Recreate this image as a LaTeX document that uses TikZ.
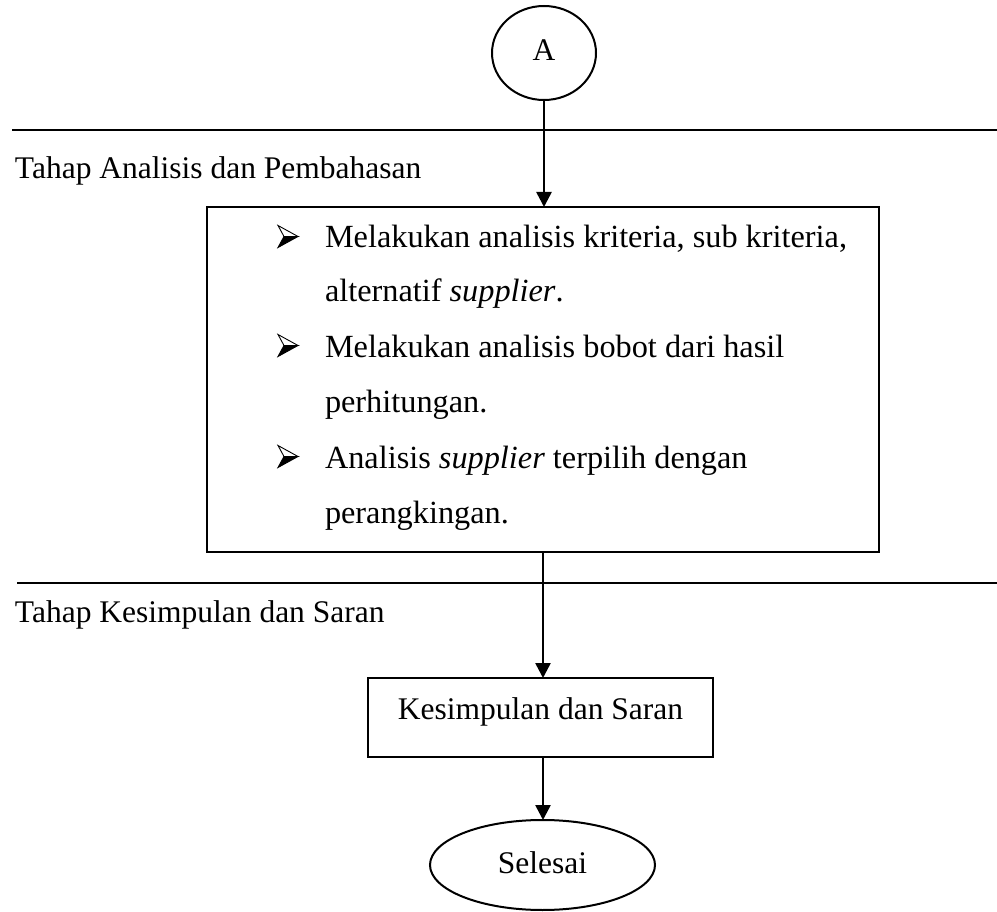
\documentclass[tikz,border=0pt]{standalone}
\usepackage{fontspec}
\setmainfont{Liberation Serif}
\usetikzlibrary{arrows.meta,shapes.geometric}
\begin{document}
\begin{tikzpicture}[x=1pt,y=-1pt,
  every node/.style={inner sep=0pt, outer sep=0pt},
  txt/.style={font=\fontsize{31.5}{36}\selectfont, anchor=base west},
  btxt/.style={font=\fontsize{32.3}{36}\selectfont, anchor=base west},
  ctxt/.style={font=\fontsize{31.5}{36}\selectfont, anchor=base},
  frame/.style={draw, line width=2pt, rectangle},
  oval/.style={draw, line width=2pt, ellipse},
  flow/.style={line width=2.6pt, -{Triangle[length=15pt,width=15pt]}},
  rule/.style={line width=2.2pt},
  bul/.pic={
    \filldraw[fill=white, line width=0.9pt, line join=miter] (-10,-11) -- (10,0) -- (-4,0) -- cycle;
    \filldraw[fill=black, line width=0.9pt, line join=miter] (-4,0) -- (10,0) -- (-10,11) -- cycle;
  }]
\useasboundingbox (0,0) rectangle (997,912);

% connector A
\node[oval, minimum width=104pt, minimum height=94pt] (A) at (544,53) {};
\node[ctxt] (Alabel) at (544,61) {A};

% rules
\coordinate (h1l) at (12,130);
\coordinate (h1r) at (997,130);
\draw[rule] (h1l) -- (h1r);
\coordinate (h2l) at (17,583);
\coordinate (h2r) at (997,583);
\draw[rule] (h2l) -- (h2r);

% stage titles
\node[txt] (stage1) at (15,179) {Tahap Analisis dan Pembahasan};
\node[txt] (stage2) at (15,622) {Tahap Kesimpulan dan Saran};

% box 1
\node[frame, minimum width=672pt, minimum height=345pt] (box1) at (543,379.5) {};
\pic at (288,236.5) {bul};
\pic at (288,345.5) {bul};
\pic at (288,456.5) {bul};
\node[btxt] (l1) at (325,248) {Melakukan analisis kriteria, sub kriteria,};
\node[btxt] (l2) at (325,302) {alternatif \textit{supplier}.};
\node[btxt] (l3) at (325,357) {Melakukan analisis bobot dari hasil};
\node[btxt] (l4) at (325,412) {perhitungan.};
\node[btxt] (l5) at (325,468) {Analisis \textit{supplier} terpilih dengan};
\node[btxt] (l6) at (325,523) {perangkingan.};

% box 2
\node[frame, minimum width=345pt, minimum height=79pt] (box2) at (540.5,717.5) {};
\node[ctxt] (box2label) at (540.5,719) {Kesimpulan dan Saran};

% end ellipse
\node[oval, minimum width=225pt, minimum height=90pt] (end) at (542.5,865) {};
\node[ctxt] (endlabel) at (542.5,873) {Selesai};

% connectors
\draw[flow] (A.south) -- (A.south |- box1.north);
\draw[flow] (box1.south) -- (box1.south |- box2.north);
\draw[flow] (box1.south |- box2.south) -- (box1.south |- end.north);
\end{tikzpicture}
\end{document}
